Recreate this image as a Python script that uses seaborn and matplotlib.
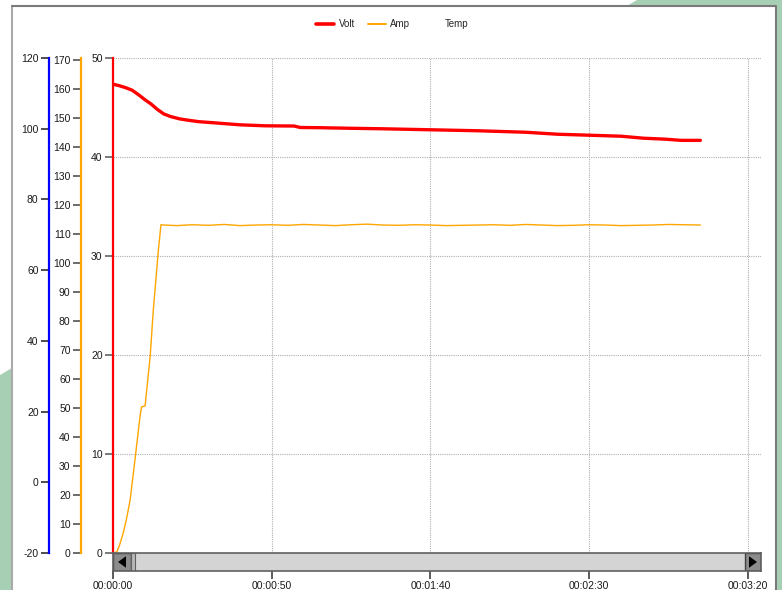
import matplotlib
matplotlib.use("Agg")
import matplotlib.pyplot as plt
import seaborn as sns
from matplotlib.lines import Line2D
from matplotlib.patches import Polygon, Rectangle
from matplotlib.ticker import FuncFormatter, MultipleLocator

# data (time in seconds)
volt_time = [0, 2, 4, 6, 8, 10, 12, 14, 16, 18, 21, 24, 27, 32, 40, 48, 57, 59,
             65, 75, 85, 100, 115, 130, 140, 150, 160, 167, 174, 179, 185]
volt = [47.35, 47.2, 47.0, 46.75, 46.3, 45.8, 45.35, 44.8, 44.35, 44.1, 43.85,
        43.7, 43.57, 43.45, 43.25, 43.15, 43.13, 42.98, 42.96, 42.9, 42.85,
        42.75, 42.65, 42.5, 42.3, 42.2, 42.1, 41.9, 41.8, 41.68, 41.68]

amp_time = [0, 1.2, 2, 3.2, 4.3, 5.4, 6.9, 8.5, 9.0, 10.1, 11.7, 12.7, 14.3,
            15.1, 16, 20, 25, 30, 35, 40, 45, 50, 55, 60, 65, 70, 75, 80, 85,
            90, 95, 100, 105, 110, 115, 120, 125, 130, 135, 140, 145, 150, 155,
            160, 165, 170, 175, 180, 185]
amp = [0, 0.4, 2.5, 6.8, 12, 18.3, 32, 47, 50.4, 50.7, 67.7, 83.8, 104.5,
       113.2, 113.1, 112.9, 113.2, 113.0, 113.3, 112.9, 113.1, 113.2, 113.0,
       113.3, 113.1, 112.9, 113.2, 113.4, 113.1, 113.0, 113.2, 113.1, 112.9,
       113.0, 113.1, 113.2, 113.0, 113.3, 113.1, 112.9, 113.0, 113.2, 113.1,
       112.9, 113.0, 113.1, 113.3, 113.2, 113.1]

x_ticks = [0, 50, 100, 150, 200]

sns.set_style("white")
plt.rcParams['font.family'] = ['Liberation Sans', 'DejaVu Sans']
plt.rcParams['font.size'] = 7.5
plt.rcParams['axes.unicode_minus'] = False

W, H = 782, 590
fig = plt.figure(figsize=(W / 100, H / 100), dpi=100, facecolor='white')


def fx(x, y):
    return (x / W, 1 - y / H)


# background frame / green decoration
green = '#a7cfb4'
for pts in ([(0, 375), (12, 368), (12, 590), (0, 590)],
            [(776, 0), (782, 0), (782, 590), (776, 590)],
            [(627, 6), (637, 0), (782, 0), (782, 6)]):
    fig.add_artist(Polygon([fx(*p) for p in pts], closed=True, fc=green, ec='none',
                           transform=fig.transFigure))
fig.add_artist(Line2D([12 / W, 12 / W], [0, 1 - 6 / H], color='#aaaaaa', lw=1.5,
                      transform=fig.transFigure))
fig.add_artist(Line2D([12 / W, 776 / W, 776 / W], [1 - 6 / H, 1 - 6 / H, 0],
                      color='#7a7a7a', lw=1.5, transform=fig.transFigure))

left, right, top, bottom = 113, 761, 58, 553
ax = fig.add_axes([left / W, 1 - bottom / H, (right - left) / W, (bottom - top) / H])
ax.patch.set_alpha(0)

sns.lineplot(x=volt_time, y=volt, ax=ax, color='#ff0000', linewidth=2.4, legend=False)
ax.set_xlim(0, 204.1)
ax.set_ylim(0, 50)
ax.yaxis.set_major_locator(MultipleLocator(10))
ax.set_xticks(x_ticks)
ax.grid(True, color='#b0b0b0', linestyle=(0, (1, 1)), linewidth=0.8)
ax.tick_params(axis='x', bottom=False, labelbottom=False)
ax.tick_params(axis='y', left=True, length=6, width=1.3, color='#707070',
               labelcolor='#1a1a1a', labelsize=7.5, pad=1.5)
for s in ['top', 'right', 'bottom']:
    ax.spines[s].set_visible(False)
ax.spines['left'].set_color('#ff0000')
ax.spines['left'].set_linewidth(1.6)
ax.set_xlabel('')
ax.set_ylabel('')

# Amp axis (orange)
ax_amp = ax.twinx()
sns.lineplot(x=amp_time, y=amp, ax=ax_amp, color='#ffa500', linewidth=1.0, legend=False)
ax_amp.set_ylim(0, 170.7)
ax_amp.yaxis.set_major_locator(MultipleLocator(10))
ax_amp.yaxis.tick_left()
ax_amp.spines['left'].set_position(('axes', -32 / (right - left)))
ax_amp.spines['left'].set_visible(True)
ax_amp.spines['left'].set_color('#ffa500')
ax_amp.spines['left'].set_linewidth(1.6)
for s in ['top', 'right', 'bottom']:
    ax_amp.spines[s].set_visible(False)
ax_amp.tick_params(axis='y', length=6, width=1.3, color='#606060',
                   labelcolor='#1a1a1a', labelsize=7.5, pad=1.5)
ax_amp.set_ylabel('')

# Temp axis (blue), no data
ax_temp = ax.twinx()
ax_temp.set_ylim(-20, 120)
ax_temp.yaxis.set_major_locator(MultipleLocator(20))
ax_temp.yaxis.tick_left()
ax_temp.spines['left'].set_position(('axes', -64 / (right - left)))
ax_temp.spines['left'].set_visible(True)
ax_temp.spines['left'].set_color('#0000ff')
ax_temp.spines['left'].set_linewidth(1.6)
for s in ['top', 'right', 'bottom']:
    ax_temp.spines[s].set_visible(False)
ax_temp.tick_params(axis='y', length=6, width=1.3, color='#404040',
                    labelcolor='#1a1a1a', labelsize=7.5, pad=1.5)

# scrollbar with time labels
sb = fig.add_axes([left / W, 1 - 571 / H, (right - left) / W, 18 / H], sharex=ax)
sb.set_facecolor('#d4d4d4')
for s in sb.spines.values():
    s.set_color('#606060')
    s.set_linewidth(1.2)
sb.set_yticks([])
sb.set_xticks(x_ticks)
sb.xaxis.set_major_formatter(FuncFormatter(
    lambda v, p: '%02d:%02d:%02d' % (v // 3600, (v % 3600) // 60, v % 60)))
sb.tick_params(axis='x', bottom=True, length=6, width=1.2, color='#404040',
               labelcolor='#1a1a1a', labelsize=7.5, pad=1.5)
bw = 18 / (right - left)
sb.add_patch(Rectangle((0, 0), bw, 1, transform=sb.transAxes, fc='#8c8c8c', ec='#404040', lw=1))
sb.add_patch(Rectangle((bw, 0), 4 / (right - left), 1, transform=sb.transAxes,
                       fc='#b8b8b8', ec='#606060', lw=0.8))
sb.add_patch(Rectangle((1 - 16 / (right - left), 0), 16 / (right - left), 1,
                       transform=sb.transAxes, fc='#8c8c8c', ec='#404040', lw=1))
sb.add_patch(Polygon([(5 / 648, 0.5), (13 / 648, 0.18), (13 / 648, 0.82)], closed=True,
                     transform=sb.transAxes, fc='black', ec='none'))
sb.add_patch(Polygon([(1 - 4 / 648, 0.5), (1 - 12 / 648, 0.18), (1 - 12 / 648, 0.82)],
                     closed=True, transform=sb.transAxes, fc='black', ec='none'))

# legend on top
handles = [Line2D([], [], color='#ff0000', lw=2.6),
           Line2D([], [], color='#ffa500', lw=1.4),
           Line2D([], [], color='none', lw=1.4)]
fig.legend(handles, ['Volt', 'Amp', 'Temp'], loc='center', bbox_to_anchor=(0.502, 1 - 24 / H),
           ncol=3, frameon=False, fontsize=7, handlelength=1.85, handletextpad=0.45,
           columnspacing=1.3)

fig.savefig('out.png', dpi=100, facecolor='white')
